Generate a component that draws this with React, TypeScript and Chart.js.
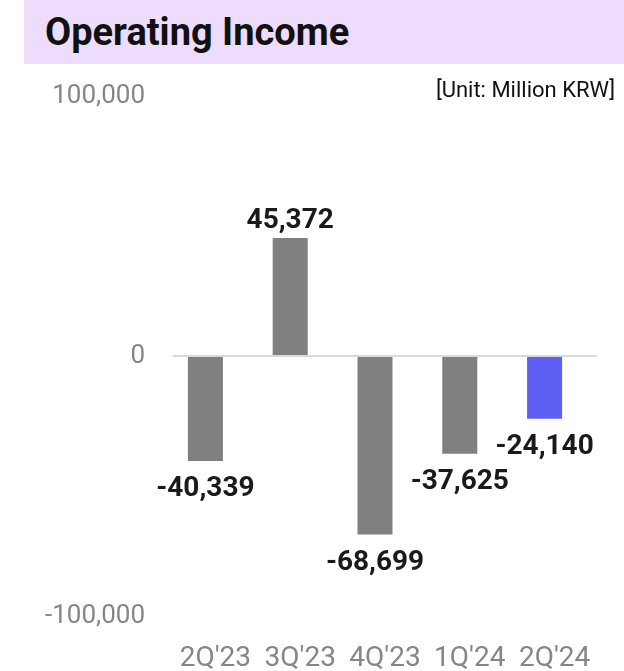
import { useEffect, useRef } from "react";
import { Chart, registerables } from "chart.js";

Chart.register(...registerables);

// Quarterly operating income, in million KRW
const quarters = ["2Q'23", "3Q'23", "4Q'23", "1Q'24", "2Q'24"];
const operatingIncome = [-40339, 45372, -68699, -37625, -24140];
const yTickValues = [-100000, 0, 100000];

const TITLE = "Operating Income";
const UNIT = "[Unit: Million KRW]";

const FONT = "Roboto";
const BAR_GRAY = "#808080";
const BAR_HIGHLIGHT = "#5E60F5";
const TICK_GRAY = "#868686";
const LABEL_COLOR = "#1a1a1a";
const BAR_SHIFT = -10;

const fmt = (v: number) => v.toLocaleString("en-US");

// Shifts the bars slightly left of the category centres and writes each value next to its bar
const valueLabels = {
  id: "valueLabels",
  beforeDatasetsDraw(chart: any) {
    chart.ctx.save();
    chart.ctx.translate(BAR_SHIFT, 0);
  },
  afterDatasetsDraw(chart: any) {
    const ctx = chart.ctx;
    const meta = chart.getDatasetMeta(0);
    ctx.font = `bold 28px ${FONT}`;
    ctx.fillStyle = LABEL_COLOR;
    ctx.textAlign = "center";
    ctx.textBaseline = "alphabetic";
    meta.data.forEach((bar: any, i: number) => {
      const v = operatingIncome[i];
      const y = v >= 0 ? bar.y - 10 : bar.y + 35;
      ctx.fillText(fmt(v), bar.x, y);
    });
    ctx.restore();
  },
};

function OperatingIncomeChart() {
  const canvasRef = useRef<HTMLCanvasElement | null>(null);

  useEffect(() => {
    const canvas = canvasRef.current;
    if (!canvas) return;
    const chart = new Chart(canvas, {
      type: "bar",
      data: {
        labels: quarters,
        datasets: [
          {
            label: TITLE,
            data: operatingIncome,
            backgroundColor: (c: any) =>
              c.dataIndex === quarters.length - 1 ? BAR_HIGHLIGHT : BAR_GRAY,
            borderWidth: 0,
            categoryPercentage: 1,
            barPercentage: 0.413,
          },
        ],
      },
      options: {
        responsive: false,
        animation: false,
        devicePixelRatio: 1,
        layout: { padding: { left: 0, right: 27, top: 96, bottom: 0 } },
        plugins: {
          legend: { display: false },
          tooltip: { enabled: false },
          title: { display: false },
        },
        scales: {
          x: {
            grid: { display: false },
            border: { display: false },
            ticks: {
              color: TICK_GRAY,
              font: { family: FONT, size: 28 },
              padding: 18,
              maxRotation: 0,
              autoSkip: false,
            },
            afterFit: (scale: any) => {
              scale.height = 55;
            },
          },
          y: {
            min: -100000,
            max: 100000,
            afterBuildTicks: (scale: any) => {
              scale.ticks = yTickValues.map((value) => ({ value }));
            },
            grid: {
              drawTicks: false,
              lineWidth: 2,
              color: (c: any) =>
                c.tick && c.tick.value === 0 ? "#d9d9d9" : "rgba(0,0,0,0)",
            },
            border: { display: false },
            ticks: {
              color: TICK_GRAY,
              font: { family: FONT, size: 26 },
              padding: 28,
              callback: (v: any) => fmt(Number(v)),
            },
            afterFit: (scale: any) => {
              scale.width = 173;
            },
          },
        },
      },
      plugins: [valueLabels],
    });
    return () => chart.destroy();
  }, []);

  return (
    <canvas
      ref={canvasRef}
      width={624}
      height={671}
      style={{ position: "absolute", left: 0, top: 0, width: 624, height: 671 }}
    />
  );
}

export default function App() {
  return (
    <div
      style={{
        position: "fixed",
        left: 0,
        top: 0,
        width: 624,
        height: 671,
        background: "#ffffff",
        overflow: "hidden",
      }}
    >
      <div
        style={{
          position: "absolute",
          left: 24,
          top: 0,
          width: 600,
          height: 64,
          background: "#EEDCFD",
        }}
      />
      <div
        style={{
          position: "absolute",
          left: 45,
          top: 13,
          fontFamily: FONT,
          fontWeight: 700,
          fontSize: 38,
          lineHeight: "38px",
          color: "#111111",
          whiteSpace: "nowrap",
        }}
      >
        {TITLE}
      </div>
      <OperatingIncomeChart />
      <div
        style={{
          position: "absolute",
          right: 9,
          top: 79,
          fontFamily: FONT,
          fontSize: 22,
          lineHeight: "22px",
          color: "#111111",
          whiteSpace: "nowrap",
          zIndex: 2,
        }}
      >
        {UNIT}
      </div>
    </div>
  );
}
